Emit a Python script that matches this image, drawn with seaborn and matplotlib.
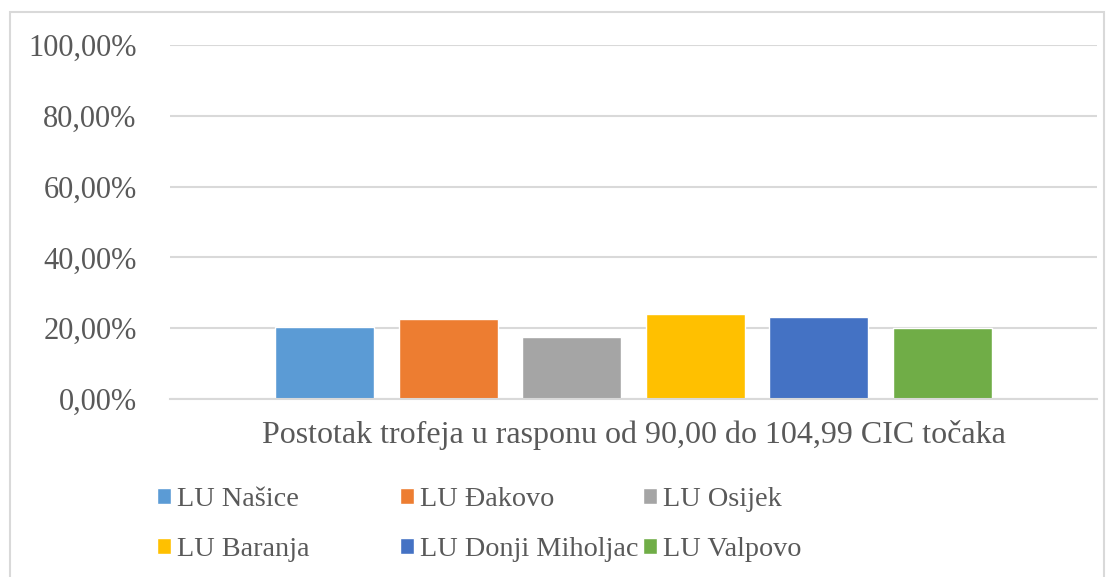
import matplotlib
matplotlib.use("Agg")
import matplotlib.pyplot as plt
import seaborn as sns
import pandas as pd
from matplotlib.ticker import FuncFormatter
from matplotlib.patches import Rectangle

category = ["Postotak trofeja u rasponu od 90,00 do 104,99 CIC točaka"]
lovacke_udruge = ["LU Našice", "LU Đakovo", "LU Osijek", "LU Baranja", "LU Donji Miholjac", "LU Valpovo"]
postotci = [20.2, 22.6, 17.5, 24.0, 23.1, 20.0]
boje = ["#5b9bd5", "#ed7d31", "#a5a5a5", "#ffc000", "#4472c4", "#70ad47"]
y_ticks = [0, 20, 40, 60, 80, 100]

df = pd.DataFrame({
    "kategorija": category * len(lovacke_udruge),
    "LU": lovacke_udruge,
    "postotak": postotci,
})

sns.set_theme(style="white")
plt.rcParams["font.family"] = ["Liberation Serif", "DejaVu Serif"]
text_color = "#595959"
grid_color = "#d9d9d9"
fs = 22
fs_x = 23
fs_leg = 20.3

W, H = 1112, 577
fig = plt.figure(figsize=(W / 100, H / 100), dpi=100)
fig.patch.set_facecolor("white")
fig.patches.append(Rectangle((10 / W, -0.01), (1104 - 10) / W, 1 - 12 / H + 0.01,
                             transform=fig.transFigure, fill=False,
                             edgecolor=grid_color, linewidth=1.5))

ax = fig.add_axes([170 / W, 1 - 399 / H, (1097 - 170) / W, (399 - 45) / H])
sns.barplot(data=df, x="kategorija", y="postotak", hue="LU", hue_order=lovacke_udruge,
            palette=boje, width=0.8, gap=0.2, saturation=1, ax=ax, legend=True)

ax.set_ylim(0, 100)
ax.set_xlim(-0.5, 0.5)
ax.set_yticks(y_ticks)
ax.yaxis.set_major_formatter(FuncFormatter(lambda v, p: f"{v:.2f}%".replace(".", ",")))
ax.grid(axis="y", color=grid_color, linewidth=1.5)
ax.set_axisbelow(True)
for s in ["top", "right", "left"]:
    ax.spines[s].set_visible(False)
ax.spines["bottom"].set_color(grid_color)
ax.spines["bottom"].set_linewidth(1.5)
ax.tick_params(axis="both", length=0, labelcolor=text_color)
ax.tick_params(axis="y", pad=24, labelsize=fs)
ax.tick_params(axis="x", pad=15, labelsize=fs_x)
ax.set_xlabel("")
ax.set_ylabel("")

handles, labels = ax.get_legend_handles_labels()
ax.get_legend().remove()
col_x = [157 / W, 400 / W, 643 / W]
for j in range(3):
    fig.legend(handles=[handles[j], handles[j + 3]], labels=[labels[j], labels[j + 3]],
               loc="upper left", bbox_to_anchor=(col_x[j], 1 - 487 / H),
               frameon=False, fontsize=fs_leg, labelcolor=text_color,
               handlelength=0.5, handleheight=0.5, handletextpad=0.22,
               labelspacing=0.88, borderaxespad=0, borderpad=0)

fig.savefig("out.png", dpi=100, facecolor="white")
